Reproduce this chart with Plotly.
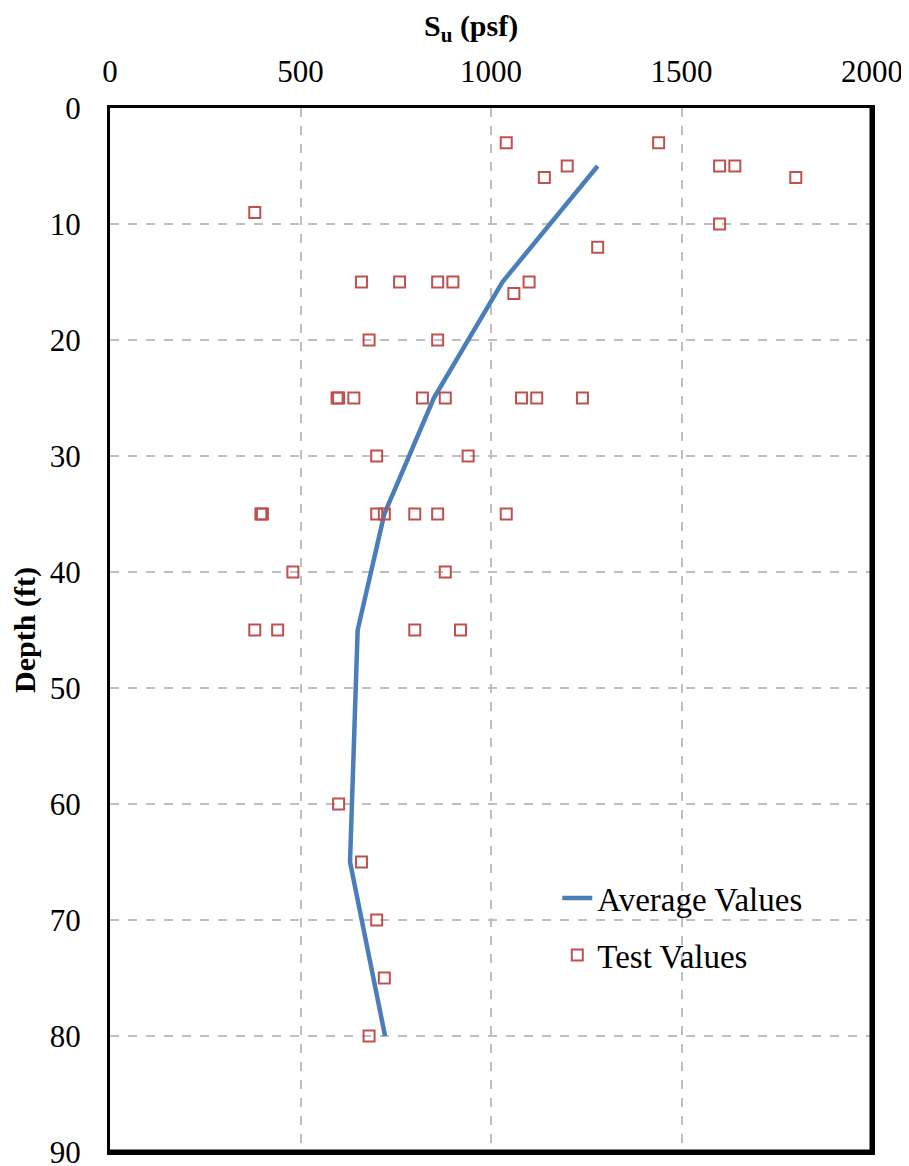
import plotly.graph_objects as go

# average S_u profile
avg_depth = [5, 15, 25, 35, 45, 65, 80]
avg_su = [1280, 1030, 850, 720, 650, 630, 722]

# individual test results
test_su = [1040, 1440, 1200, 1600, 1640, 1140, 1800, 380, 1600, 1280,
           660, 760, 860, 900, 1100, 1060,
           680, 860,
           596, 600, 640, 820, 880, 1080, 1120, 1240,
           700, 940,
           396, 400, 700, 720, 800, 860, 1040,
           480, 880,
           380, 440, 800, 920,
           600, 660, 700, 720, 680]
test_depth = [3, 3, 5, 5, 5, 6, 6, 9, 10, 12,
              15, 15, 15, 15, 15, 16,
              20, 20,
              25, 25, 25, 25, 25, 25, 25, 25,
              30, 30,
              35, 35, 35, 35, 35, 35, 35,
              40, 40,
              45, 45, 45, 45,
              60, 65, 70, 75, 80]

x_ticks = [0, 500, 1000, 1500, 2000]
y_ticks = [0, 10, 20, 30, 40, 50, 60, 70, 80, 90]

serif = "Liberation Serif, Times New Roman, serif"

fig = go.Figure()
fig.add_trace(go.Scatter(
    x=avg_su, y=avg_depth, mode="lines", name="Average Values",
    line=dict(color="#4A7EBB", width=4.5), legendgroup="a",
))
fig.add_trace(go.Scatter(
    x=test_su, y=test_depth, mode="markers", name="Test Values",
    marker=dict(symbol="square-open", size=11, color="#C0504D",
                line=dict(width=2, color="#C0504D")),
    legendgroup="b",
))

# page body has an 8px margin, so the figure is a bit smaller than the window
fig.update_layout(
    width=901, height=1158,
    margin=dict(l=102, r=37, t=100, b=14),
    paper_bgcolor="white", plot_bgcolor="white",
    font=dict(family=serif, size=28, color="black"),
    legend=dict(
        x=0.587, y=0.270, xanchor="left", yanchor="top",
        bgcolor="rgba(0,0,0,0)", tracegroupgap=11,
        font=dict(family=serif, size=33),
    ),
    xaxis=dict(
        side="top", range=[0, 2000], tickvals=x_ticks, automargin=False,
        showgrid=True, gridcolor="#BFBFBF", griddash="dash", gridwidth=1.5,
        showline=True, linecolor="black", linewidth=3, mirror=True,
        zeroline=False, ticks="", ticklabelstandoff=11,
        ticklabeloverflow="allow",
        tickfont=dict(family=serif, size=31),
    ),
    yaxis=dict(
        range=[90, 0], tickvals=y_ticks, automargin=False,
        showgrid=True, gridcolor="#BFBFBF", griddash="dash", gridwidth=1.5,
        showline=True, linecolor="black", linewidth=3, mirror=True,
        zeroline=False, ticks="", ticklabelstandoff=20,
        ticklabeloverflow="allow",
        tickfont=dict(family=serif, size=31),
        title=dict(text="<b>Depth (ft)</b>", standoff=10,
                   font=dict(family=serif, size=30)),
    ),
)

# x title sits a little left of centre in the original
fig.add_annotation(text="<b>S<sub>u</sub> (psf)</b>", xref="paper", yref="paper",
                   x=0.474, y=1.077, xanchor="center", yanchor="middle",
                   showarrow=False, font=dict(family=serif, size=30))

# heavier right and bottom frame edges, as in the original
fig.add_shape(type="line", xref="paper", yref="paper", x0=1, x1=1, y0=0, y1=1,
              line=dict(color="black", width=5))
fig.add_shape(type="line", xref="paper", yref="paper", x0=0, x1=1, y0=0, y1=0,
              line=dict(color="black", width=5))

fig.write_html("out.html")
